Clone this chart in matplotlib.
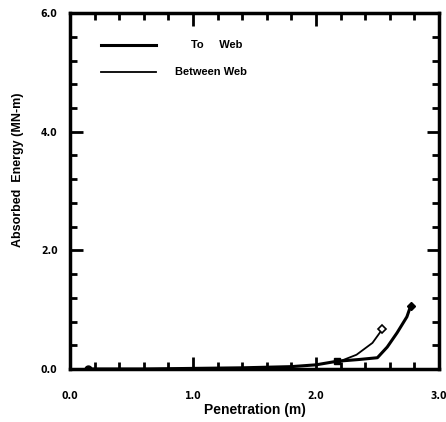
import matplotlib
matplotlib.use("Agg")
import matplotlib.pyplot as plt
from matplotlib.ticker import MultipleLocator

plt.rcParams['font.family'] = ['Liberation Sans', 'DejaVu Sans']

# Penetration (m) vs absorbed energy (MN-m)
to_web_x = [0.15, 0.6, 1.0, 1.4, 1.8, 2.0, 2.17, 2.35, 2.50, 2.58, 2.66, 2.74, 2.77]
to_web_y = [0.0, 0.0, 0.01, 0.02, 0.04, 0.07, 0.13, 0.16, 0.19, 0.37, 0.61, 0.88, 1.06]

between_x = [2.17, 2.33, 2.46, 2.54]
between_y = [0.11, 0.24, 0.44, 0.67]

x_ticks = [0.0, 1.0, 2.0, 3.0]
y_ticks = [0.0, 2.0, 4.0, 6.0]

fig = plt.figure(figsize=(4.46, 4.22), dpi=100)
ax = fig.add_axes([0.157, 0.1256, 0.827, 0.8434])

ax.plot(to_web_x, to_web_y, color='black', lw=2.2, solid_capstyle='round')
ax.plot(between_x, between_y, color='black', lw=1.3)

# end-point markers
ax.plot(to_web_x[0], to_web_y[0], 'o', color='black', ms=5)
ax.plot(to_web_x[6], to_web_y[6], 's', color='black', ms=5)
ax.plot(to_web_x[-1], to_web_y[-1], 'D', color='black', ms=4.5)
ax.plot(between_x[-1], between_y[-1], 'D', mfc='white', mec='black', mew=1.2, ms=4.5)

ax.set_xlim(0, 3.0)
ax.set_ylim(0, 6.0)
ax.xaxis.set_minor_locator(MultipleLocator(0.2))
ax.yaxis.set_minor_locator(MultipleLocator(0.4))
tick_font = dict(fontsize=7.5, fontweight='bold', family='DejaVu Sans', stretch='condensed')
ax.set_xticks(x_ticks)
ax.set_xticklabels([f'{v:.1f}' for v in x_ticks], **tick_font)
ax.set_yticks(y_ticks)
ax.set_yticklabels([f'{v:.1f}' for v in y_ticks], **tick_font)

ax.tick_params(which='both', direction='in', top=True, right=True, width=2)
ax.tick_params(which='major', length=9)
ax.tick_params(which='minor', length=5)
ax.tick_params(axis='x', which='major', pad=16)
ax.tick_params(axis='y', which='major', pad=9)
for s in ax.spines.values():
    s.set_linewidth(2.5)

ax.set_xlabel('Penetration (m)', fontsize=10, fontweight='bold', labelpad=1)
ax.set_ylabel('Absorbed  Energy (MN-m)', fontsize=9, fontweight='bold')
ax.yaxis.set_label_coords(-0.125, 0.56)

# legend drawn inside the axes
ax.plot([0.25, 0.7], [5.47, 5.47], color='black', lw=2.2)
ax.plot([0.25, 0.7], [5.0, 5.0], color='black', lw=1.3)
ax.text(0.98, 5.47, 'To     Web', fontsize=8, fontweight='bold', va='center')
ax.text(0.85, 5.0, 'Between Web', fontsize=8, fontweight='bold', va='center')

fig.savefig('out.png', dpi=100)
